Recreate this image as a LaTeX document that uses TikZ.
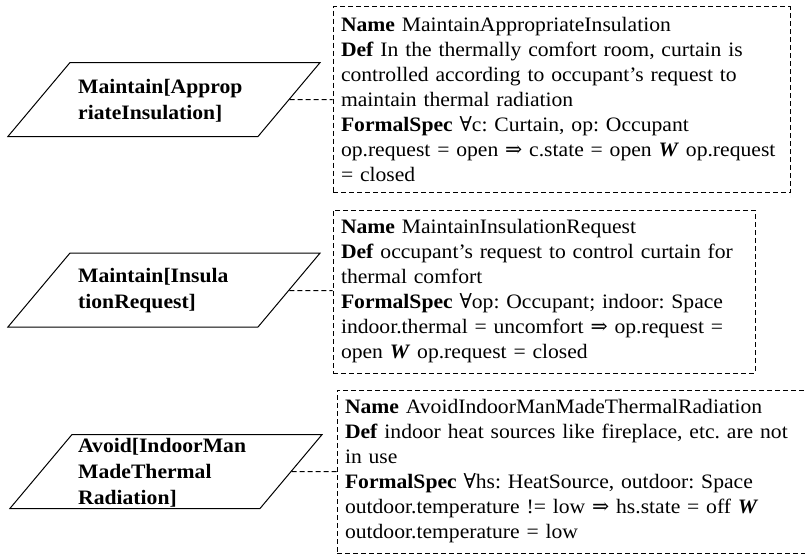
\documentclass[tikz,border=0pt]{standalone}
\usepackage{fontspec}
\setmainfont{Liberation Serif}[FakeStretch=1.055]
\newfontfamily\symfont{DejaVu Serif}
\newcommand{\imp}{{\symfont ⇒}}
\newcommand{\all}{{\symfont ∀}}
\frenchspacing
\usetikzlibrary{shapes.geometric}

\begin{document}
\begin{tikzpicture}[x=1pt, y=-1pt,
  every node/.style={font=\fontsize{20.5}{25}\selectfont},
  goal/.style={draw, line width=1pt, trapezium, trapezium left angle=50,
    trapezium right angle=130, inner sep=0pt, text width=188pt,
    text height=74pt, text depth=0pt},
  goaltext/.style={align=left, anchor=west, inner sep=0pt,
    font=\bfseries\fontsize{20.5}{26}\selectfont},
  spec/.style={draw, dashed, line width=0.9pt, dash pattern=on 5pt off 3pt,
    align=left, inner xsep=8pt, inner ysep=0pt},
  link/.style={dashed, line width=1pt, dash pattern=on 5pt off 3pt}]
  \useasboundingbox (0,0) rectangle (805,558);
  % goals on the left
  \node[goal] (g1) at (164,99.5) {};
  \node[goal] (g2) at (164,290) {};
  \node[goal] (g3) at (166,471.5) {};
  \node[goaltext] (t1) at (78,101) {Maintain[Approp\\riateInsulation]};
  \node[goaltext] (t2) at (78,291) {Maintain[Insula\\tionRequest]};
  \node[goaltext] (t3) at (78,472.5) {Avoid[IndoorMan\\MadeThermal\\Radiation]};
  % specs on the right
  \node[spec, text width=441pt, minimum height=186pt] (d1) at (561.5,99.5)
    {\textbf{Name} MaintainAppropriateInsulation\\
     \textbf{Def} In the thermally comfort room, curtain is\\
     controlled according to occupant’s request to\\
     maintain thermal radiation\\
     \textbf{FormalSpec} \all c: Curtain, op: Occupant\\
     op.request = open \imp{} c.state = open \textbf{\textit{W}} op.request\\
     = closed};
  \node[spec, text width=406pt, minimum height=163pt] (d2) at (544,291.5)
    {\textbf{Name} MaintainInsulationRequest\\
     \textbf{Def} occupant’s request to control curtain for\\
     thermal comfort\\
     \textbf{FormalSpec} \all op: Occupant; indoor: Space\\
     indoor.thermal = uncomfort \imp{} op.request =\\
     open \textbf{\textit{W}} op.request = closed};
  \node[spec, text width=480pt, minimum height=163pt] (d3) at (585,471.5)
    {\textbf{Name} AvoidIndoorManMadeThermalRadiation\\
     \textbf{Def} indoor heat sources like fireplace, etc. are not\\
     in use\\
     \textbf{FormalSpec} \all hs: HeatSource, outdoor: Space\\
     outdoor.temperature != low \imp{} hs.state = off \textbf{\textit{W}}\\
     outdoor.temperature = low};
  \draw[link] (g1) -- (d1);
  \draw[link] (g2) -- (d2);
  \draw[link] (g3) -- (d3);
\end{tikzpicture}
\end{document}
